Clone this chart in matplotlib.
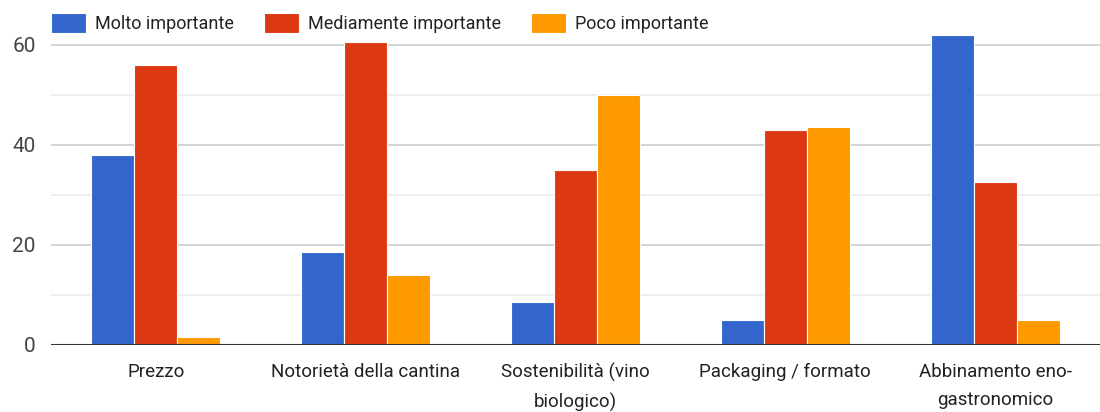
import numpy as np
import matplotlib.pyplot as plt
from matplotlib.patches import Patch

plt.rcParams["font.family"] = ["Roboto", "DejaVu Sans"]

categories = [
    "Prezzo",
    "Notorietà della cantina",
    "Sostenibilità (vino\nbiologico)",
    "Packaging / formato",
    "Abbinamento eno-\ngastronomico",
]
molto = [38, 18.7, 8.7, 5, 62]
mediamente = [56, 60.7, 35, 43, 32.7]
poco = [1.7, 14, 50, 43.7, 5]

series = ["Molto importante", "Mediamente importante", "Poco importante"]
colors = ["#3366cc", "#dc3912", "#ff9900"]

fig = plt.figure(figsize=(11, 4.12), dpi=100)
ax = fig.add_axes([51 / 1100, (412 - 345) / 412, 1049 / 1100, 320 / 412])

x = np.arange(len(categories))
w = 0.205
for i, (vals, c) in enumerate(zip([molto, mediamente, poco], colors)):
    ax.bar(x + (i - 1) * w, vals, width=w, color=c,
           edgecolor="#ffffff", linewidth=0.8, zorder=3)

ax.set_xlim(-0.5, len(categories) - 0.5)
ax.set_ylim(0, 64)
ax.set_yticks([0, 20, 40, 60])
ax.set_yticks([10, 30, 50], minor=True)
ax.grid(axis="y", which="major", color="#cccccc", linewidth=1.2, zorder=0)
ax.grid(axis="y", which="minor", color="#ebebeb", linewidth=1.2, zorder=0)
ax.axhline(0, color="#333333", linewidth=1.5, zorder=4)

ax.set_xticks(x)
ax.set_xticklabels(categories, fontsize=13.5, color="#222222", linespacing=1.72,
                   va="top")
ax.tick_params(axis="x", length=0, pad=13)
ax.tick_params(axis="y", which="both", length=0, pad=11, labelsize=15,
               labelcolor="#444444")
for s in ax.spines.values():
    s.set_visible(False)

handles = [Patch(facecolor=c, edgecolor="#ffffff", linewidth=0.8) for c in colors]
fig.legend(handles, series, loc="upper left", bbox_to_anchor=(38 / 1100, 1.0),
           ncol=3, frameon=False, fontsize=13, handlelength=1.95, handleheight=1.4,
           handletextpad=0.5, columnspacing=1.65, labelcolor="#222222",
           borderaxespad=0.3)

fig.savefig("out.png", dpi=100, facecolor="white")
